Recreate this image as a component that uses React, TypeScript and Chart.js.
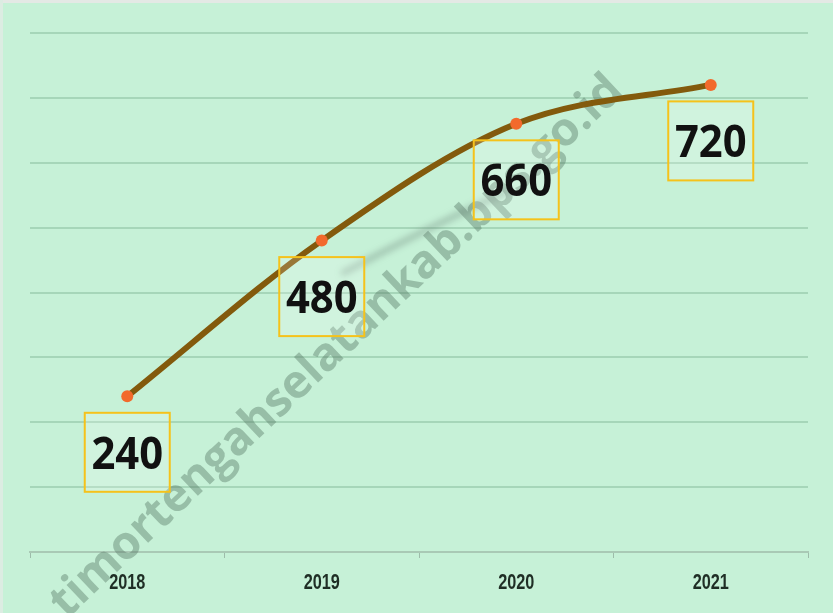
import React, { useEffect, useRef } from "react";
import { Chart, registerables } from "chart.js";

Chart.register(...registerables);

const years = ["2018", "2019", "2020", "2021"];
const values = [240, 480, 660, 720];
const valueLabels = ["240", "480", "660", "720"];
const yMin = 0;
const yMax = 800;
const yStep = 100;
const watermarkText = "timortengahselatankab.bps.go.id";

const BG = "#c6f1d7";

const backgroundPlugin = {
  id: "bgPlugin",
  beforeDraw(chart: any) {
    const { ctx, width, height } = chart;
    ctx.save();
    ctx.fillStyle = BG;
    ctx.fillRect(0, 0, width, height);
    ctx.fillStyle = "#e4e9e5";
    ctx.fillRect(0, 0, width, 3);
    ctx.fillStyle = "#dcece2";
    ctx.fillRect(0, 0, 3, height);
    ctx.restore();
  },
};

const watermarkPlugin = {
  id: "watermark",
  beforeDatasetsDraw(chart: any) {
    const { ctx, width, height } = chart;
    ctx.save();
    const ax = width * 0.414;
    const ay = height * 0.555;
    const ang = (-43.3 * Math.PI) / 180;
    let fs = 38;
    ctx.font = `bold ${fs}px "Open Sans", sans-serif`;
    const w0 = ctx.measureText(watermarkText).width;
    fs = fs * (768 / w0);
    ctx.font = `bold ${fs}px "Open Sans", sans-serif`;
    const pre = ctx.measureText(watermarkText.slice(0, 15)).width;
    const tw = ctx.measureText("t").width;
    ctx.translate(ax, ay);
    ctx.rotate(ang);
    ctx.fillStyle = "rgba(85,120,100,0.42)";
    ctx.textAlign = "left";
    ctx.textBaseline = "alphabetic";
    ctx.fillText(watermarkText, -(pre + tw / 2), fs * 0.27);
    ctx.restore();

    // faint grey smudge below the 2019-2020 segment (scan artefact in the source)
    const meta = chart.getDatasetMeta(0);
    const p1 = meta.data[1];
    const p2 = meta.data[2];
    if (p1 && p2) {
      ctx.save();
      ctx.filter = "blur(3px)";
      ctx.strokeStyle = "rgba(95,115,105,0.35)";
      ctx.lineWidth = 6;
      ctx.lineCap = "round";
      ctx.beginPath();
      ctx.moveTo(p1.x + 22, p1.y + 32);
      ctx.quadraticCurveTo((p1.x + p2.x) / 2 + 10, (p1.y + p2.y) / 2 + 45, p2.x - 10, p2.y + 68);
      ctx.stroke();
      ctx.restore();
    }
  },
};

const labelPlugin = {
  id: "valueBoxes",
  afterDatasetsDraw(chart: any) {
    const { ctx } = chart;
    const meta = chart.getDatasetMeta(0);
    ctx.save();
    meta.data.forEach((pt: any, i: number) => {
      const cx = pt.x;
      const cy = pt.y + 56;
      const w = 85;
      const h = 79;
      ctx.fillStyle = "rgba(255,255,255,0.18)";
      ctx.fillRect(cx - w / 2, cy - h / 2, w, h);
      ctx.strokeStyle = "#f5c21b";
      ctx.lineWidth = 2;
      ctx.strokeRect(cx - w / 2, cy - h / 2, w, h);
      ctx.save();
      ctx.translate(cx, cy + 4);
      ctx.scale(0.95, 1);
      ctx.font = `bold 44px "Open Sans", sans-serif`;
      ctx.fillStyle = "#111111";
      ctx.textAlign = "center";
      ctx.textBaseline = "middle";
      ctx.fillText(valueLabels[i], 0, 0);
      ctx.restore();
    });
    ctx.restore();
  },
};

const xLabelPlugin = {
  id: "xLabels",
  afterDraw(chart: any) {
    const { ctx } = chart;
    const xs = chart.scales.x;
    ctx.save();
    years.forEach((lab, i) => {
      const px = xs.getPixelForTick(i);
      ctx.save();
      ctx.translate(px, xs.top + 31);
      ctx.scale(0.74, 1);
      ctx.font = `bold 22px "Liberation Sans", sans-serif`;
      ctx.fillStyle = "#1f2e25";
      ctx.textAlign = "center";
      ctx.textBaseline = "middle";
      ctx.fillText(lab, 0, 0);
      ctx.restore();
    });
    ctx.restore();
  },
};

export default function App() {
  const canvasRef = useRef<HTMLCanvasElement | null>(null);

  useEffect(() => {
    if (!canvasRef.current) return;
    const chart = new Chart(canvasRef.current, {
      type: "line",
      data: {
        labels: years,
        datasets: [
          {
            data: values,
            borderColor: "#835a0c",
            borderWidth: 6,
            pointBackgroundColor: "#f26a2c",
            pointBorderWidth: 0,
            pointRadius: 6,
            cubicInterpolationMode: "monotone",
            fill: false,
          },
        ],
      },
      options: {
        animation: false,
        responsive: true,
        maintainAspectRatio: false,
        layout: { padding: { left: 30, right: 25, top: 33, bottom: 0 } },
        plugins: {
          legend: { display: false },
          tooltip: { enabled: false },
          title: { display: false },
        },
        scales: {
          x: {
            offset: true,
            afterFit(scale: any) {
              scale.height = 61;
            },
            grid: {
              display: true,
              drawOnChartArea: false,
              offset: true,
              tickLength: 6,
              color: "#9dbcaa",
              lineWidth: 1,
            },
            border: { display: true, color: "#a9c9b5", width: 2 },
            ticks: {
              color: "rgba(0,0,0,0)",
              padding: 12,
              font: { family: '"Liberation Sans", sans-serif', size: 16 },
            },
          },
          y: {
            min: yMin,
            max: yMax,
            afterFit(scale: any) {
              scale.width = 0;
            },
            ticks: { display: false, stepSize: yStep },
            grid: {
              drawTicks: false,
              color: "rgba(140,192,160,0.55)",
              lineWidth: 2,
            },
            border: { display: false },
          },
        },
      },
      plugins: [backgroundPlugin, watermarkPlugin, labelPlugin, xLabelPlugin],
    });
    return () => chart.destroy();
  }, []);

  return (
    <div style={{ position: "fixed", left: 0, top: 0, width: 833, height: 613 }}>
      <canvas ref={canvasRef} style={{ width: "100%", height: "100%" }} />
    </div>
  );
}
